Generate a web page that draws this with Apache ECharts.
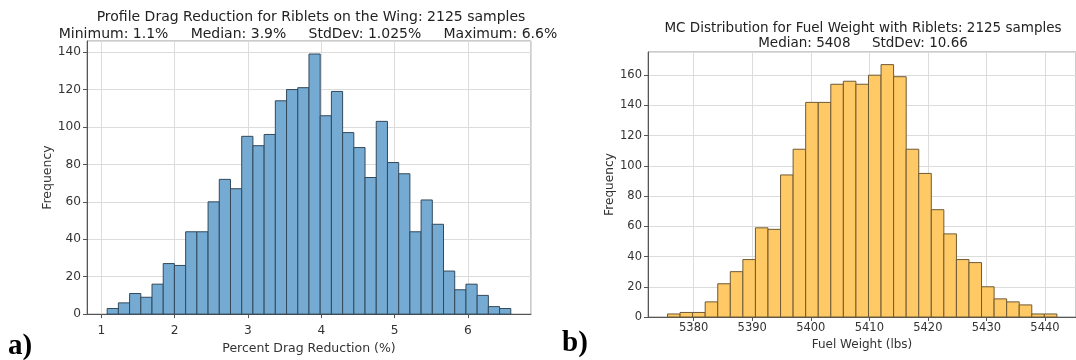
<!DOCTYPE html>
<html>
<head>
<meta charset="utf-8">
<script src="https://cdn.jsdelivr.net/npm/echarts@6/dist/echarts.min.js"></script>
<style>
html,body{margin:0;padding:0;background:#fff;}
#chart{width:1076px;height:360px;}
</style>
</head>
<body>
<div id="chart"></div>
<script>
// ---- Data ----
const dragTitle = 'Profile Drag Reduction for Riblets on the Wing: 2125 samples';
const dragStats = 'Minimum: 1.1%     Median: 3.9%     StdDev: 1.025%     Maximum: 6.6%';
const dragBinStart = 1.08;
const dragBinWidth = 0.1529;
const dragCounts = [3, 6, 11, 9, 16, 27, 26, 44, 44, 60, 72, 67, 95, 90, 96, 114, 120, 121,
                    139, 106, 119, 97, 89, 73, 103, 81, 75, 44, 61, 48, 23, 13, 16, 10, 4, 3];
const dragXLabel = 'Percent Drag Reduction (%)';

const fuelTitle = 'MC Distribution for Fuel Weight with Riblets: 2125 samples';
const fuelStats = 'Median: 5408     StdDev: 10.66';
const fuelBinStart = 5375.53;
const fuelBinWidth = 2.1455;
const fuelCounts = [2, 3, 3, 10, 22, 30, 38, 59, 58, 94, 111, 142, 142, 154, 156, 154, 160,
                    167, 159, 111, 95, 71, 55, 38, 36, 20, 12, 10, 8, 2, 2];
const fuelXLabel = 'Fuel Weight (lbs)';
const yLabel = 'Frequency';
const panelLabels = ['a)', 'b)'];

function toBins(start, width, counts) {
  return counts.map((c, i) => [start + i * width, start + (i + 1) * width, c]);
}

function makeRender(fill, stroke) {
  return function (params, api) {
    const p0 = api.coord([api.value(0), 0]);
    const p1 = api.coord([api.value(1), api.value(2)]);
    return {
      type: 'rect',
      shape: { x: p0[0], y: p1[1], width: p1[0] - p0[0], height: p0[1] - p1[1] },
      style: { fill: fill, stroke: stroke, lineWidth: 1 }
    };
  };
}

const FONT = 'DejaVu Sans';
const gridLine = { show: true, lineStyle: { color: '#dcdcdc', width: 1 } };
const axisLineS = { show: true, lineStyle: { color: '#555', width: 1 } };
const tickS = { show: true, length: 4, lineStyle: { color: '#555' } };
const plain = v => String(v);

const chart = echarts.init(document.getElementById('chart'), null, { renderer: 'canvas' });
chart.setOption({
  animation: false,
  backgroundColor: '#fff',
  grid: [
    { left: 87, top: 41, width: 444, height: 274, show: true, borderColor: '#999', borderWidth: 1, backgroundColor: 'transparent' },
    { left: 648, top: 52, width: 431, height: 265, show: true, borderColor: '#999', borderWidth: 1, backgroundColor: 'transparent' }
  ],
  xAxis: [
    { type: 'value', gridIndex: 0, min: 0.805, max: 6.86, minInterval: 1, maxInterval: 1,
      axisLine: axisLineS, axisTick: tickS, splitLine: gridLine,
      axisLabel: { showMinLabel: false, showMaxLabel: false, formatter: plain, fontFamily: FONT, fontSize: 12.2, color: '#333', margin: 11 },
      name: dragXLabel, nameLocation: 'middle', nameGap: 27,
      nameTextStyle: { fontFamily: FONT, fontSize: 12.5, color: '#333' } },
    { type: 'value', gridIndex: 1, min: 5372.2, max: 5445.3, minInterval: 10, maxInterval: 10,
      axisLine: axisLineS, axisTick: tickS, splitLine: gridLine,
      axisLabel: { showMinLabel: false, showMaxLabel: false, formatter: plain, fontFamily: FONT, fontSize: 11.5, color: '#333', margin: 5 },
      name: fuelXLabel, nameLocation: 'middle', nameGap: 20,
      nameTextStyle: { fontFamily: FONT, fontSize: 12, color: '#333' } }
  ],
  yAxis: [
    { type: 'value', gridIndex: 0, min: 0, max: 145.95, interval: 20,
      axisLine: axisLineS, axisTick: tickS, splitLine: gridLine,
      axisLabel: { showMaxLabel: false, fontFamily: FONT, fontSize: 12.2, color: '#333', margin: 6 },
      name: yLabel, nameLocation: 'middle', nameGap: 32, nameRotate: 90,
      nameTextStyle: { fontFamily: FONT, fontSize: 12.5, color: '#333' } },
    { type: 'value', gridIndex: 1, min: 0, max: 175.35, interval: 20,
      axisLine: axisLineS, axisTick: tickS, splitLine: gridLine,
      axisLabel: { showMaxLabel: false, fontFamily: FONT, fontSize: 11.5, color: '#333', margin: 6 },
      name: yLabel, nameLocation: 'middle', nameGap: 31, nameRotate: 90,
      nameTextStyle: { fontFamily: FONT, fontSize: 12.2, color: '#333' } }
  ],
  series: [
    { type: 'custom', xAxisIndex: 0, yAxisIndex: 0, renderItem: makeRender('#75abd2', '#33495a'),
      encode: { x: [0, 1], y: 2 }, data: toBins(dragBinStart, dragBinWidth, dragCounts), clip: false },
    { type: 'custom', xAxisIndex: 1, yAxisIndex: 1, renderItem: makeRender('#ffc966', '#6e5a35'),
      encode: { x: [0, 1], y: 2 }, data: toBins(fuelBinStart, fuelBinWidth, fuelCounts), clip: false }
  ],
  graphic: [
    { type: 'text', x: 311, y: 17, style: { text: dragTitle, textAlign: 'center', textVerticalAlign: 'middle', font: '14px "DejaVu Sans"', fill: '#222' } },
    { type: 'text', x: 308, y: 34, style: { text: dragStats, textAlign: 'center', textVerticalAlign: 'middle', font: '14px "DejaVu Sans"', fill: '#222' } },
    { type: 'text', x: 863, y: 28, style: { text: fuelTitle, textAlign: 'center', textVerticalAlign: 'middle', font: '13.5px "DejaVu Sans"', fill: '#222' } },
    { type: 'text', x: 863, y: 43, style: { text: fuelStats, textAlign: 'center', textVerticalAlign: 'middle', font: '13.5px "DejaVu Sans"', fill: '#222' } },
    { type: 'text', x: 8, y: 347, style: { text: panelLabels[0], textAlign: 'left', textVerticalAlign: 'middle', font: 'bold 29px "Liberation Serif"', fill: '#000' } },
    { type: 'text', x: 562, y: 344, style: { text: panelLabels[1], textAlign: 'left', textVerticalAlign: 'middle', font: 'bold 29px "Liberation Serif"', fill: '#000' } }
  ]
});
</script>
</body>
</html>
